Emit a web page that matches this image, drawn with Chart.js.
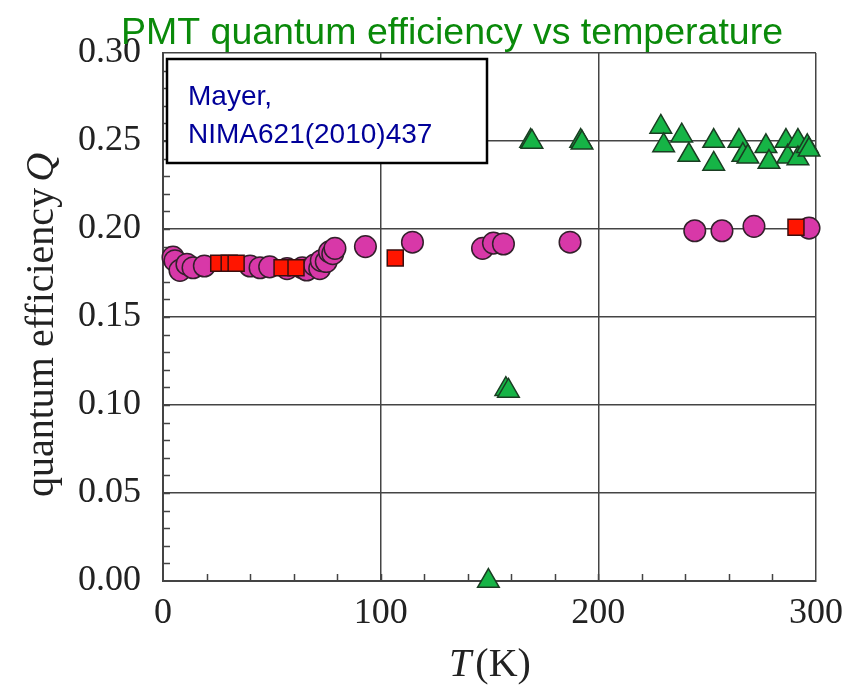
<!DOCTYPE html>
<html>
<head>
<meta charset="utf-8">
<script src="https://cdn.jsdelivr.net/npm/chart.js@4/dist/chart.umd.min.js"></script>
<style>
  html, body { margin: 0; padding: 0; background: #fff; }
  #wrap { width: 842px; height: 689px; }
</style>
</head>
<body>
<div id="wrap"><canvas id="qeChart" width="842" height="689"></canvas></div>
<script>
// temperature (K) and quantum efficiency
const circleT = [4.6, 5.5, 7.8, 11, 13.8, 19, 40, 44.6, 49, 57, 64, 66, 69.6, 72, 72.7, 75, 76.5, 78, 79, 93,
                 114.6, 146.8, 151.8, 156.4, 187, 244.3, 256.8, 271.5, 296.8];
const circleQ = [0.184, 0.182, 0.1765, 0.180, 0.178, 0.179, 0.179, 0.178, 0.1785, 0.1775, 0.178, 0.1767, 0.1795, 0.1775, 0.182, 0.1815, 0.187, 0.186, 0.189, 0.190,
                 0.1925, 0.189, 0.192, 0.1915, 0.1925, 0.199, 0.199, 0.2015, 0.2005];

const squareT = [25.6, 30.4, 33.6, 54.7, 61.1, 106.7, 290.8];
const squareQ = [0.1805, 0.1805, 0.1805, 0.178, 0.178, 0.1835, 0.201];

const triangleT = [149.5, 157.5, 158.7, 168.9, 169.5, 191.9, 192.5, 228.7, 230, 238.3, 241.6, 253, 253,
                   264.6, 266.4, 268.7, 277, 278.4, 286.2, 287, 291.7, 291.7, 296, 296.8];
const triangleQ = [0.0, 0.109, 0.108, 0.250, 0.2495, 0.250, 0.249, 0.258, 0.2475, 0.253, 0.242, 0.250, 0.237,
                   0.250, 0.242, 0.241, 0.247, 0.238, 0.250, 0.241, 0.250, 0.240, 0.247, 0.245];

const titleText = 'PMT quantum efficiency vs temperature';
const noteLines = ['Mayer,', 'NIMA621(2010)437'];

const pts = (xs, ys) => xs.map((x, i) => ({ x: x, y: ys[i] }));

const serif = '"Liberation Serif", "DejaVu Serif", serif';
const sans = '"Liberation Sans", Arial, sans-serif';

// minor ticks, titles and the reference box
const decor = {
  id: 'decor',
  beforeDatasetsDraw(chart) {
    const { ctx, chartArea: a, scales } = chart;
    ctx.save();
    ctx.strokeStyle = '#444';
    ctx.lineWidth = 1.5;
    ctx.beginPath();
    for (let t = 20; t < 300; t += 20) {
      const px = Math.round(scales.x.getPixelForValue(t)) + 0.5;
      ctx.moveTo(px, a.bottom);
      ctx.lineTo(px, a.bottom - 7);
    }
    for (let q = 1; q < 30; q++) {
      const py = Math.round(scales.y.getPixelForValue(q / 100)) + 0.5;
      ctx.moveTo(a.left, py);
      ctx.lineTo(a.left + 7, py);
    }
    ctx.stroke();
    ctx.restore();
  },
  afterDraw(chart) {
    const { ctx } = chart;
    ctx.save();

    // title
    ctx.fillStyle = '#0a8a0a';
    ctx.font = '37.5px ' + sans;
    ctx.textAlign = 'center';
    ctx.textBaseline = 'alphabetic';
    ctx.fillText(titleText, 452, 44);

    // x axis title: T(K)
    ctx.fillStyle = '#222';
    ctx.textAlign = 'left';
    const t1 = 'T', t2 = '(K)';
    ctx.font = 'italic 40px ' + serif;
    const w1 = ctx.measureText(t1).width + 4;
    ctx.font = '40px ' + serif;
    const w2 = ctx.measureText(t2).width;
    let sx = 490 - (w1 + w2) / 2;
    ctx.font = 'italic 40px ' + serif;
    ctx.fillText(t1, sx, 676);
    ctx.font = '40px ' + serif;
    ctx.fillText(t2, sx + w1, 676);

    // y axis title: quantum efficiency Q
    ctx.translate(53, 325);
    ctx.rotate(-Math.PI / 2);
    const y1 = 'quantum efficiency', y2 = 'Q';
    ctx.font = '40px ' + serif;
    const v1 = ctx.measureText(y1).width + 6;
    ctx.font = 'italic 40px ' + serif;
    const v2 = ctx.measureText(y2).width;
    sx = -(v1 + v2) / 2;
    ctx.font = '40px ' + serif;
    ctx.fillText(y1, sx, 0);
    ctx.font = 'italic 40px ' + serif;
    ctx.fillText(y2, sx + v1, 0);
    ctx.setTransform(1, 0, 0, 1, 0, 0);

    // reference box
    ctx.fillStyle = '#fff';
    ctx.fillRect(167, 59, 320, 104);
    ctx.strokeStyle = '#000';
    ctx.lineWidth = 2.5;
    ctx.strokeRect(167, 59, 320, 104);
    ctx.fillStyle = '#000099';
    ctx.font = '28px ' + sans;
    ctx.fillText(noteLines[0], 188, 105);
    ctx.fillText(noteLines[1], 188, 143);

    ctx.restore();
  }
};

new Chart(document.getElementById('qeChart'), {
  type: 'scatter',
  data: {
    datasets: [
      {
        label: 'triangles',
        data: pts(triangleT, triangleQ),
        pointStyle: 'triangle',
        pointRadius: 12.5,
        backgroundColor: '#16b446',
        borderColor: '#1a3d22',
        borderWidth: 1.5,
        clip: false
      },
      {
        label: 'squares',
        data: pts(squareT, squareQ),
        pointStyle: 'rect',
        pointRadius: 11.3,
        backgroundColor: '#ff1500',
        borderColor: '#3a0e0e',
        borderWidth: 1.5,
        clip: false
      },
      {
        label: 'circles',
        data: pts(circleT, circleQ),
        pointStyle: 'circle',
        pointRadius: 10.8,
        backgroundColor: '#d838a8',
        borderColor: '#33202b',
        borderWidth: 1.5,
        clip: false
      }
    ]
  },
  options: {
    responsive: false,
    animation: false,
    layout: { padding: { top: 53, right: 26, left: 0, bottom: 0 } },
    plugins: {
      legend: { display: false },
      title: { display: false },
      tooltip: { enabled: false }
    },
    scales: {
      x: {
        type: 'linear',
        min: 0,
        max: 300,
        ticks: {
          stepSize: 100,
          color: '#222',
          padding: 11,
          font: { family: serif, size: 36 }
        },
        grid: { color: '#444', lineWidth: 1.5, drawTicks: false },
        border: { color: '#444', width: 2 },
        afterFit: s => { s.height = 108; s.paddingLeft = 0; s.paddingRight = 0; }
      },
      y: {
        min: 0,
        max: 0.3,
        ticks: {
          stepSize: 0.05,
          color: '#222',
          padding: 22,
          font: { family: serif, size: 36 },
          callback: v => Number(v).toFixed(2)
        },
        grid: { color: '#444', lineWidth: 1.5, drawTicks: false },
        border: { color: '#444', width: 2 },
        afterFit: s => { s.width = 163; s.paddingTop = 0; s.paddingBottom = 0; }
      }
    }
  },
  plugins: [decor]
});
</script>
</body>
</html>
